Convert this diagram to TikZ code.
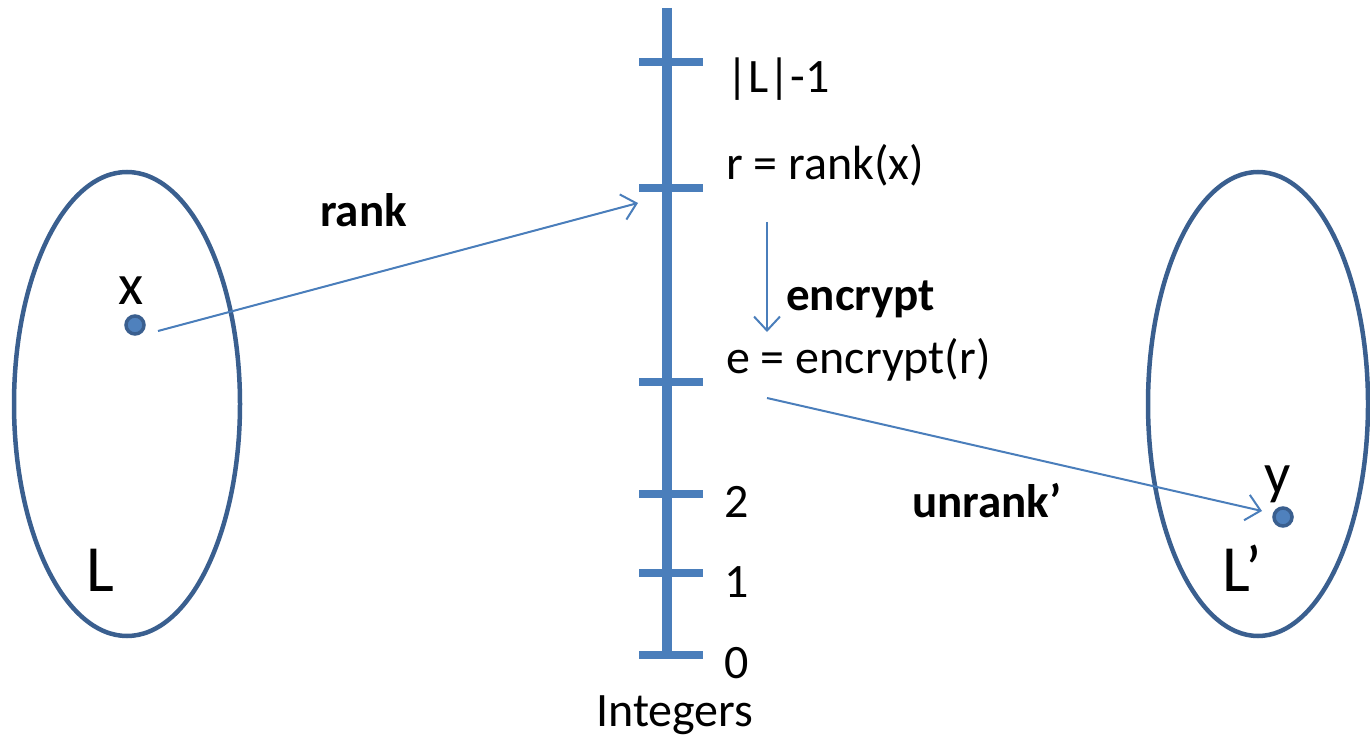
\documentclass[tikz,border=0pt]{standalone}
\usepackage{fontspec}
\setmainfont{Carlito}
\usetikzlibrary{arrows.meta,shapes.geometric}
\definecolor{axisblue}{HTML}{4A7EBB}
\definecolor{rimblue}{HTML}{3A5F8F}
\definecolor{dotfill}{HTML}{4F81BD}
\tikzset{
  axis/.style={axisblue, line width=10pt},
  tick/.style={axisblue, line width=8pt},
  setrim/.style={rimblue, line width=4.5pt},
  mapping/.style={axisblue, line width=2pt, -{Straight Barb[length=14pt, width=26pt, line width=2pt]}},
  lbl/.style={inner sep=0pt, anchor=base west, font=\fontsize{48}{56}\selectfont},
  biglbl/.style={inner sep=0pt, anchor=base west, font=\fontsize{66}{74}\selectfont},
  ptlbl/.style={inner sep=0pt, anchor=base west, font=\fontsize{58}{66}\selectfont},
  oplbl/.style={inner sep=0pt, anchor=base west, font=\fontsize{47}{54}\selectfont\bfseries},
  elem/.style={circle, draw=rimblue, fill=dotfill, line width=3.5pt, minimum size=18pt, inner sep=0pt},
}
\begin{document}
\begin{tikzpicture}[x=1pt, y=-1pt]
  \useasboundingbox (0,0) rectangle (1370,735);

  % the two languages
  \node[setrim, draw, ellipse, minimum width=226pt, minimum height=464pt, inner sep=0pt] (L) at (127,404) {};
  \node[setrim, draw, ellipse, minimum width=220pt, minimum height=464pt, inner sep=0pt] (Lp) at (1258,404) {};
  \node[biglbl] (Lname) at (86,591) {L};
  \node[biglbl] (Lpname) at (1222,591) {L’};

  % the integer axis with its ticks
  \coordinate (top) at (667,8);
  \coordinate (bot) at (667,655);
  \draw[axis] (top) -- (bot);
  \foreach \y/\n in {62/t5, 188/t4, 382/t3, 494/t2, 573/t1, 655/t0} {
    \coordinate (\n l) at (639,\y);
    \coordinate (\n r) at (703,\y);
    \draw[tick] (\n l) -- (\n r);
  }
  \node[lbl] (maxr) at (726,93) {|L|-1};
  \node[lbl] (rr) at (726,180) {r = rank(x)};
  \node[lbl] (ee) at (726,373) {e = encrypt(r)};
  \node[lbl] (two) at (724,517) {2};
  \node[lbl] (one) at (724,597) {1};
  \node[lbl] (zero) at (724,678) {0};
  \node[lbl] (ints) at (596,726) {Integers};

  % the elements x and y
  \node[elem] (x) at (135,325) {};
  \node[elem] (y) at (1283,517) {};
  \node[ptlbl] (xname) at (118,305) {x};
  \node[ptlbl] (yname) at (1264,493) {y};

  % the mappings
  \coordinate (rankend) at (638,203);
  \coordinate (encstart) at (767,222);
  \coordinate (encend) at (767,332);
  \coordinate (unstart) at (767,398);
  \coordinate (unend) at (1262,511);
  \draw[mapping] ([xshift=23pt,yshift=-6pt]x.center) -- (rankend);
  \draw[mapping] (encstart) -- (encend);
  \draw[mapping] (unstart) -- (unend);
  \node[oplbl] (rankop) at (320,227) {rank};
  \node[oplbl] (encop) at (786,310) {encrypt};
  \node[oplbl] (unop) at (912,517) {unrank’};
\end{tikzpicture}
\end{document}
